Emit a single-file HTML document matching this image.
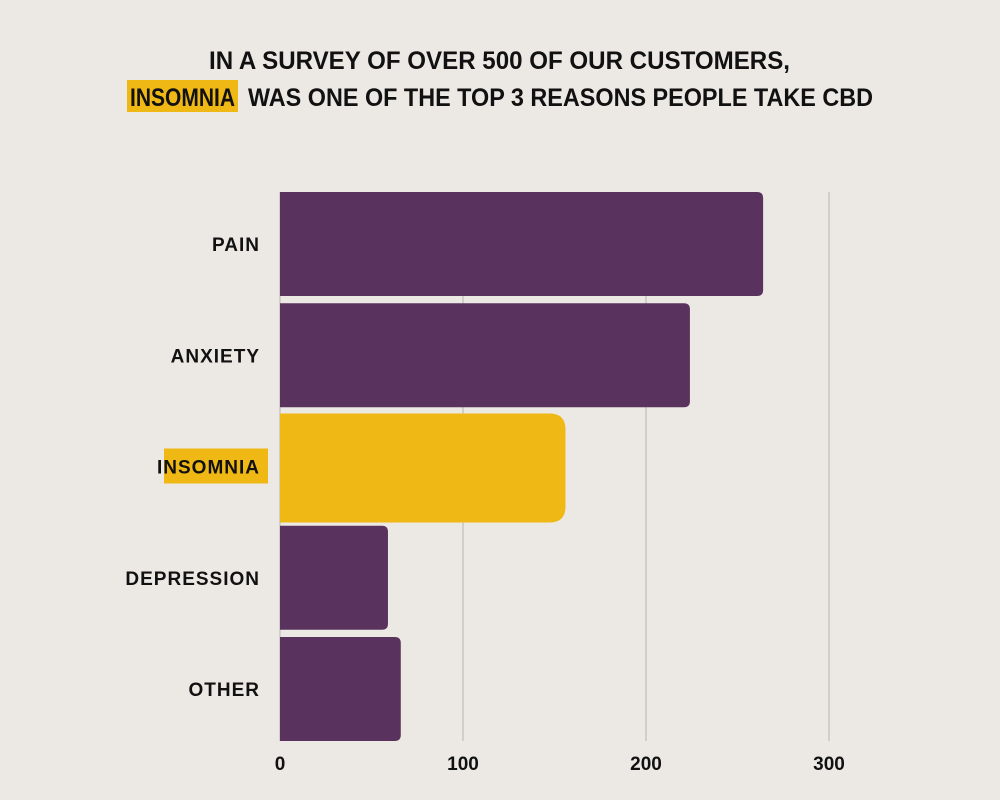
<!DOCTYPE html>
<html><head><meta charset="utf-8"><style>
html,body{margin:0;padding:0;background:#ECE9E4;}
svg{display:block;font-family:"Liberation Sans",sans-serif;font-weight:bold;}
</style></head><body>
<svg id="chart" width="1000" height="800" viewBox="0 0 1000 800">
  <rect width="1000" height="800" fill="#ECE9E4"/>
  <g>
    <text x="209" y="69" font-size="25" textLength="581" lengthAdjust="spacingAndGlyphs" fill="#111">IN A SURVEY OF OVER 500 OF OUR CUSTOMERS,</text>
    <rect x="127" y="80" width="111" height="32" fill="#EFB814"/>
    <text x="130" y="106" font-size="25" textLength="105" lengthAdjust="spacingAndGlyphs" fill="#111">INSOMNIA</text>
    <text x="248" y="106" font-size="25" textLength="625" lengthAdjust="spacingAndGlyphs" fill="#111">WAS ONE OF THE TOP 3 REASONS PEOPLE TAKE CBD</text>
  </g>
  <g id="grid"></g>
  <g id="bars"></g>
  <g id="labels"></g>
  <g id="ticks"></g>
</svg>
<script>
const categories = ["PAIN","ANXIETY","INSOMNIA","DEPRESSION","OTHER"];
const values = [264, 224, 156, 59, 66];
const highlight = [false, false, true, false, false];
const tickValues = [0, 100, 200, 300];
const tickLabels = ["0","100","200","300"];

const NS = "http://www.w3.org/2000/svg";
const x0 = 280, pxPerUnit = (829 - 280) / 300;
const xScale = v => x0 + v * pxPerUnit;
const plotTop = 192, step = 111.25, barH = 104;
const yBand = i => plotTop + i * step;

function mk(tag, attrs, parent){ const e=document.createElementNS(NS,tag); for(const k in attrs) e.setAttribute(k,attrs[k]); parent.appendChild(e); return e; }

const grid=document.getElementById('grid'), bars=document.getElementById('bars'), labels=document.getElementById('labels'), ticks=document.getElementById('ticks');
tickValues.forEach((t,i)=>{
  const x=xScale(t);
  const l=mk('line',{x1:x,x2:x,y1:192,y2:741,stroke:'#C9C6C1','stroke-width':1.5},grid);
  
  
  const tx=mk('text',{x:x,y:770,'text-anchor':'middle','font-size':19,fill:'#111'},ticks);
  tx.textContent=tickLabels[i];
  
  
});
categories.forEach((c,i)=>{
  const hl=highlight[i];
  const y=yBand(i)+(hl?-1:0), h=barH+(hl?5:0);
  const w=xScale(values[i])-x0, r=hl?16:6;
  const d=`M${x0},${y} H${x0+w-r} Q${x0+w},${y} ${x0+w},${y+r} V${y+h-r} Q${x0+w},${y+h} ${x0+w-r},${y+h} H${x0} Z`;
  const p=mk('path',{d:d,fill:hl?'#EFB814':'#5A325E'},bars);
  
  
  const cy=yBand(i)+barH/2;
  if(hl){
    const bx=mk('rect',{x:164,y:cy-18,width:104,height:35,fill:'#EFB814'},labels);
    
    
  }
  const t=mk('text',{x:260,y:cy+7,'text-anchor':'end','font-size':19,fill:'#111','letter-spacing':'1'},labels);
  t.textContent=c;
  
  
});
</script>
</body></html>
